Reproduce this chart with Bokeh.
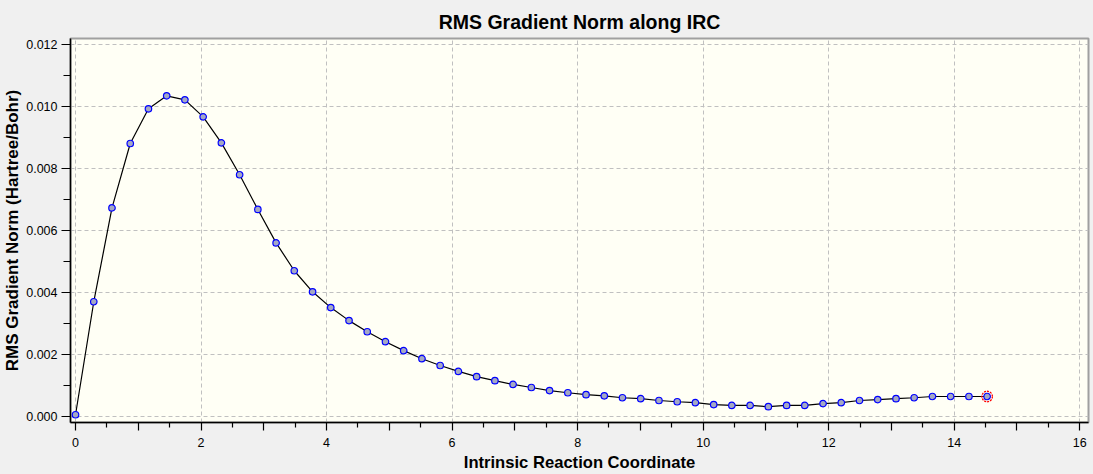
from bokeh.plotting import figure
from bokeh.models import FixedTicker, Range1d, ColumnDataSource, NumeralTickFormatter
from bokeh.embed import file_html
from bokeh.resources import INLINE

# ---- data ----
irc_x = [0.000, 0.291, 0.581, 0.872, 1.162, 1.453, 1.743, 2.034, 2.324, 2.615,
         2.905, 3.196, 3.486, 3.777, 4.067, 4.358, 4.648, 4.939, 5.229, 5.520,
         5.810, 6.101, 6.391, 6.682, 6.972, 7.263, 7.553, 7.844, 8.134, 8.425,
         8.715, 9.006, 9.296, 9.587, 9.877, 10.168, 10.458, 10.749, 11.039, 11.330,
         11.620, 11.911, 12.201, 12.492, 12.782, 13.073, 13.363, 13.654, 13.944, 14.235,
         14.525]
rms_grad = [0.00005, 0.00370, 0.00673, 0.00881, 0.00993, 0.01035, 0.01022, 0.00967, 0.00883, 0.00780,
            0.00668, 0.00560, 0.00470, 0.00402, 0.00351, 0.00309, 0.00273, 0.00241, 0.00212, 0.00186,
            0.00164, 0.00145, 0.00128, 0.00115, 0.00103, 0.00093, 0.00083, 0.00076, 0.00070, 0.00066,
            0.00060, 0.00057, 0.00051, 0.00047, 0.00044, 0.00038, 0.00035, 0.00035, 0.00031, 0.00035,
            0.00035, 0.00041, 0.00044, 0.00051, 0.00054, 0.00057, 0.00060, 0.00064, 0.00064, 0.00064,
            0.00064]
current_x = [14.525]
current_y = [0.00064]

x_label_ticks = [0, 2, 4, 6, 8, 10, 12, 14, 16]
x_odd_ticks = [1, 3, 5, 7, 9, 11, 13, 15]
x_half_ticks = [0.5, 1.5, 2.5, 3.5, 4.5, 5.5, 6.5, 7.5, 8.5, 9.5, 10.5, 11.5, 12.5, 13.5, 14.5, 15.5]
y_major_ticks = [0.000, 0.002, 0.004, 0.006, 0.008, 0.010, 0.012]
y_minor_ticks = [0.001, 0.003, 0.005, 0.007, 0.009, 0.011]

title_text = "RMS Gradient Norm along IRC"
x_title = "Intrinsic Reaction Coordinate"
y_title = "RMS Gradient Norm (Hartree/Bohr)"

FONT = "Liberation Sans"

p = figure(width=1093, height=474, output_backend="svg", toolbar_location=None,
           x_range=Range1d(-0.08, 16.14), y_range=Range1d(-0.0002, 0.0122),
           title=title_text)
p.min_border_left = 70
p.min_border_right = 5
p.min_border_top = 38
p.min_border_bottom = 52

p.background_fill_color = "#FFFFF5"
p.border_fill_color = "#F0F0F0"
p.outline_line_color = "#A0A0A0"
p.outline_line_width = 2

p.title.text_font = FONT
p.title.text_font_size = "19.5px"
p.title.text_font_style = "bold"
p.title.align = "center"
p.title.text_color = "black"
p.title.standoff = 11

# x axis
xa = p.xaxis[0]
xa.ticker = FixedTicker(ticks=sorted(x_label_ticks + x_odd_ticks), minor_ticks=x_half_ticks)
xa.major_label_overrides = {t: "" for t in x_odd_ticks}
xa.axis_label = x_title
# y axis
ya = p.yaxis[0]
ya.ticker = FixedTicker(ticks=y_major_ticks, minor_ticks=y_minor_ticks)
ya.formatter = NumeralTickFormatter(format="0.000")
ya.axis_label = y_title

for ax in (xa, ya):
    ax.axis_line_color = "black"
    ax.axis_line_width = 1.5
    ax.major_tick_line_color = "black"
    ax.minor_tick_line_color = "black"
    ax.major_tick_line_width = 1.2
    ax.minor_tick_line_width = 1.2
    ax.major_tick_in = 0
    ax.minor_tick_in = 0
    ax.major_label_text_font = FONT
    ax.major_label_text_font_size = "12.5px"
    ax.major_label_text_color = "black"
    ax.axis_label_text_font = FONT
    ax.axis_label_text_font_style = "bold"
    ax.axis_label_text_color = "black"

xa.major_tick_out = 8
xa.minor_tick_out = 5
xa.major_label_standoff = 7
xa.axis_label_text_font_size = "16.6px"
xa.axis_label_standoff = 3
ya.major_tick_out = 9
ya.minor_tick_out = 7
ya.major_label_standoff = 4
ya.axis_label_text_font_size = "17px"
ya.axis_label_standoff = 1

p.xgrid.ticker = FixedTicker(ticks=x_label_ticks)
p.ygrid.ticker = FixedTicker(ticks=y_major_ticks)
for g in (p.xgrid[0], p.ygrid[0]):
    g.grid_line_color = "#C0C0C0"
    g.grid_line_dash = "4 3"
    g.grid_line_width = 1

src = ColumnDataSource(dict(x=irc_x, y=rms_grad))
p.line("x", "y", source=src, line_color="black", line_width=1.2)
p.scatter("x", "y", source=src, marker="circle", size=6.5,
          fill_color="#A4A8C4", line_color="#0000FF", line_width=1.2)
p.scatter(current_x, current_y, marker="circle", size=10.5, fill_color=None,
          line_color="#FF0000", line_width=1.3, line_dash="2 1")

html = file_html(p, INLINE)
html = html.replace("<head>", "<head><style>body{background:#F0F0F0;}</style>", 1)
open("out.html", "w").write(html)
